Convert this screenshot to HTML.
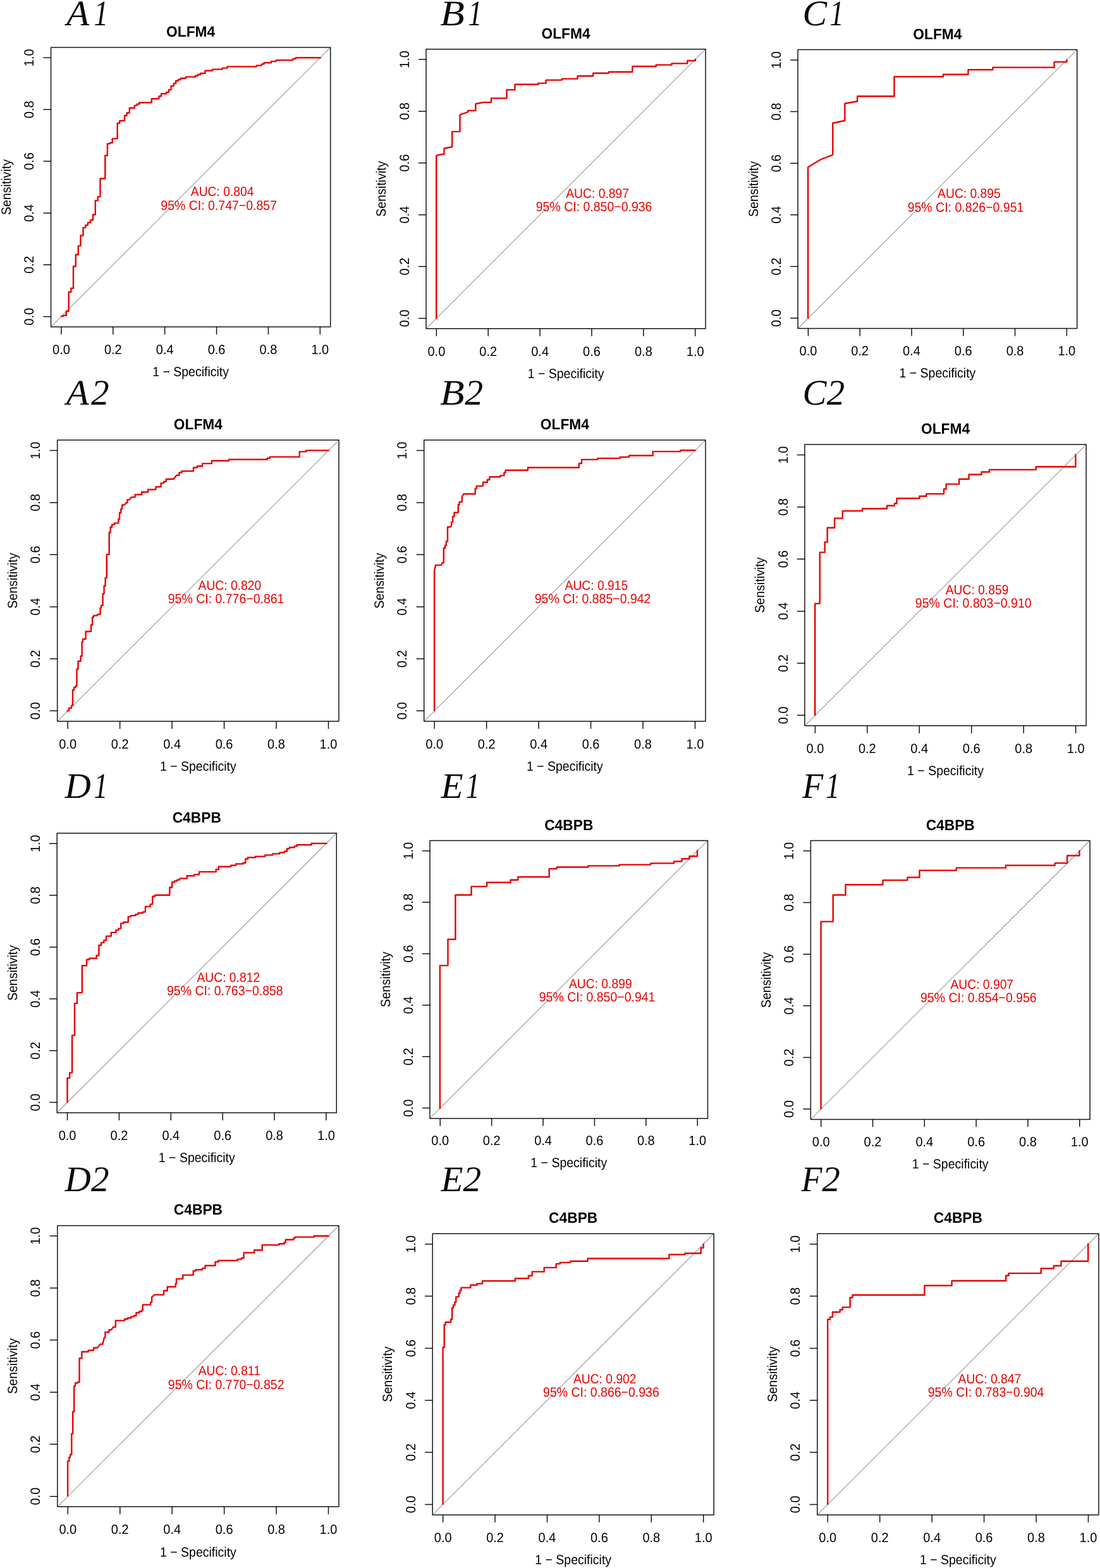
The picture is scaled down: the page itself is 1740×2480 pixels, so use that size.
<!DOCTYPE html>
<html><head><meta charset="utf-8"><title>ROC curves</title>
<style>
html,body{margin:0;padding:0;background:#fff;}
body{width:1740px;height:2480px;overflow:hidden;}
svg{display:block;}
#wrap{width:1740px;height:2480px;}
text{font-family:"Liberation Sans",Arial,sans-serif;font-size:21.2px;fill:#000;text-rendering:geometricPrecision;}
.tl{text-anchor:middle;}
.ttl{text-anchor:middle;font-weight:bold;font-size:23.5px;}
.au{fill:#e80000;}
.lab{font-family:"Liberation Serif","Times New Roman",serif;font-style:italic;font-size:57.0px;fill:#0a0a0a;}
.lab tspan{font-family:"Liberation Serif","Times New Roman",serif;}
.bx{fill:none;stroke:#141414;stroke-width:1.5;stroke-linejoin:round;}
.tk{fill:none;stroke:#141414;stroke-width:1.5;stroke-linecap:round;}
.dg{stroke:#999;stroke-width:1.1;}
.cv{fill:none;stroke:#e80000;stroke-width:2.4;stroke-linejoin:round;stroke-linecap:round;}
</style></head>
<body><div id="wrap"><svg width="1740" height="2480" viewBox="0 0 1740 2480">
<rect width="1740" height="2480" fill="#fff"/>
<g>
<text class="lab" transform="translate(105.22 39.7) scale(1.033 1)">A</text>
<text class="lab" transform="translate(148.48 39.7) scale(0.796 1)">1</text>
<text class="ttl tl" transform="translate(301.62 58.1) scale(0.969 1)">OLFM4</text>
<line class="dg" x1="80.55" y1="517.1" x2="522.7" y2="75"/>
<path class="cv" d="M97 500.3 H100 V499 H104.7 V492.2 H108.7 V461.9 H112.3 V455.9 H116 V421.2 H119.8 V402.8 H123.8 V388.9 H127.5 V372.5 H131.5 V360.1 H135.2 V356.1 H138.9 V352.1 H143.1 V348 H147.1 V339.5 H150.8 V317.2 H154.7 V311.1 H158.5 V282.5 H166.3 V246 H169.9 V227.4 H173.8 V225.9 H177.7 V219.4 H185.7 V194.8 H189.3 V191 H197.1 V182.7 H200.5 V178.5 H204.8 V170.8 H212.9 V166.9 H216.5 V164.6 H220.4 V162.2 H239.7 V156.3 H251.4 V152.2 H255 V148.3 H263 V146 H266.9 V142.1 H270.5 V135.9 H274.7 V132 H278.2 V127.8 H282.1 V125.8 H286 V123.8 H293.8 V121.6 H308.8 V120 H312.7 V118 H316.9 V116 H324.5 V111.7 H336 V109.6 H351.7 V107.6 H359.5 V105.4 H405.7 V103.6 H413.7 V101.4 H417.5 V99.2 H429 V97.1 H436.7 V95.1 H463.4 V93 H467.7 V91.2 H506.8"/>
<rect class="bx" x="80.55" y="75" width="442.15" height="442.1"/>
<path class="tk" d="M96.93 517.1V528.5M80.55 500.73H69.05M178.81 517.1V528.5M80.55 418.86H69.05M260.69 517.1V528.5M80.55 336.99H69.05M342.56 517.1V528.5M80.55 255.11H69.05M424.44 517.1V528.5M80.55 173.24H69.05M506.32 517.1V528.5M80.55 91.37H69.05"/>
<text class="tl" transform="translate(96.93 559.9) scale(0.945 1)">0.0</text>
<text class="tl" transform="translate(53.35 500.73) rotate(-90) scale(0.945 1)">0.0</text>
<text class="tl" transform="translate(178.81 559.9) scale(0.945 1)">0.2</text>
<text class="tl" transform="translate(53.35 418.86) rotate(-90) scale(0.945 1)">0.2</text>
<text class="tl" transform="translate(260.69 559.9) scale(0.945 1)">0.4</text>
<text class="tl" transform="translate(53.35 336.99) rotate(-90) scale(0.945 1)">0.4</text>
<text class="tl" transform="translate(342.56 559.9) scale(0.945 1)">0.6</text>
<text class="tl" transform="translate(53.35 255.11) rotate(-90) scale(0.945 1)">0.6</text>
<text class="tl" transform="translate(424.44 559.9) scale(0.945 1)">0.8</text>
<text class="tl" transform="translate(53.35 173.24) rotate(-90) scale(0.945 1)">0.8</text>
<text class="tl" transform="translate(506.32 559.9) scale(0.945 1)">1.0</text>
<text class="tl" transform="translate(53.35 91.37) rotate(-90) scale(0.945 1)">1.0</text>
<text class="tl" transform="translate(301.62 595) scale(0.92 1)">1 − Specificity</text>
<text class="tl" transform="translate(16.95 296.05) rotate(-90) scale(0.922 1)">Sensitivity</text>
<text class="au" transform="translate(301.82 310.3) scale(0.91 1)">AUC: 0.804</text>
<text class="au" transform="translate(254.32 331.6) scale(0.92 1)">95% CI: 0.747−0.857</text>
</g>
<g>
<text class="lab" transform="translate(696.31 39.8) scale(1.108 1)">B</text>
<text class="lab" transform="translate(740.42 39.8) scale(0.777 1)">1</text>
<text class="ttl tl" transform="translate(895.05 60.8) scale(0.969 1)">OLFM4</text>
<line class="dg" x1="674" y1="519.8" x2="1116.1" y2="77.7"/>
<path class="cv" d="M690.2 503.2 V245.9 L702.5 243.5 V234.7 L715.2 232.3 V208.1 H727.5 V181.7 L740.1 177.2 V174.9 H752.4 V164.3 L764.7 161.9 H777 V155.4 H801.5 V142.1 H814.5 V133.5 H851.4 V131.6 H863.7 V126.6 H888.9 V124.6 H913.6 V120.3 H938.3 V115.7 H962.8 V113.8 H1000.4 V105 H1037.8 V102.6 H1062.5 V100.4 H1087.3 V96 H1099.9 V93.8"/>
<rect class="bx" x="674" y="77.7" width="442.1" height="442.1"/>
<path class="tk" d="M690.37 519.8V531.2M674 503.43H662.5M772.24 519.8V531.2M674 421.56H662.5M854.11 519.8V531.2M674 339.69H662.5M935.99 519.8V531.2M674 257.81H662.5M1017.86 519.8V531.2M674 175.94H662.5M1099.73 519.8V531.2M674 94.07H662.5"/>
<text class="tl" transform="translate(690.37 562.6) scale(0.945 1)">0.0</text>
<text class="tl" transform="translate(646.8 503.43) rotate(-90) scale(0.945 1)">0.0</text>
<text class="tl" transform="translate(772.24 562.6) scale(0.945 1)">0.2</text>
<text class="tl" transform="translate(646.8 421.56) rotate(-90) scale(0.945 1)">0.2</text>
<text class="tl" transform="translate(854.11 562.6) scale(0.945 1)">0.4</text>
<text class="tl" transform="translate(646.8 339.69) rotate(-90) scale(0.945 1)">0.4</text>
<text class="tl" transform="translate(935.99 562.6) scale(0.945 1)">0.6</text>
<text class="tl" transform="translate(646.8 257.81) rotate(-90) scale(0.945 1)">0.6</text>
<text class="tl" transform="translate(1017.86 562.6) scale(0.945 1)">0.8</text>
<text class="tl" transform="translate(646.8 175.94) rotate(-90) scale(0.945 1)">0.8</text>
<text class="tl" transform="translate(1099.73 562.6) scale(0.945 1)">1.0</text>
<text class="tl" transform="translate(646.8 94.07) rotate(-90) scale(0.945 1)">1.0</text>
<text class="tl" transform="translate(895.05 597.69) scale(0.92 1)">1 − Specificity</text>
<text class="tl" transform="translate(610.41 298.75) rotate(-90) scale(0.922 1)">Sensitivity</text>
<text class="au" transform="translate(895.25 313) scale(0.91 1)">AUC: 0.897</text>
<text class="au" transform="translate(847.76 334.3) scale(0.92 1)">95% CI: 0.850−0.936</text>
</g>
<g>
<text class="lab" transform="translate(1269.58 39.8) scale(1.015 1)">C</text>
<text class="lab" transform="translate(1312.42 39.8) scale(0.777 1)">1</text>
<text class="ttl tl" transform="translate(1482.9 61.72) scale(0.969 1)">OLFM4</text>
<line class="dg" x1="1262.1" y1="519.5" x2="1703.7" y2="78.6"/>
<path class="cv" d="M1278.1 502.9 V264.6 L1298.6 252 L1317.3 244.8 V194.7 L1336.4 190.8 V163.8 L1356.2 160.2 V152.3 H1414.5 V121.3 H1491.9 V117.7 H1531.5 V110.2 H1570.4 V106.6 H1667.6 V97.9 H1687.4 V94.7"/>
<rect class="bx" x="1262.1" y="78.6" width="441.6" height="440.9"/>
<path class="tk" d="M1278.46 519.5V530.9M1262.1 503.17H1250.6M1360.23 519.5V530.9M1262.1 421.52H1250.6M1442.01 519.5V530.9M1262.1 339.87H1250.6M1523.79 519.5V530.9M1262.1 258.23H1250.6M1605.57 519.5V530.9M1262.1 176.58H1250.6M1687.34 519.5V530.9M1262.1 94.93H1250.6"/>
<text class="tl" transform="translate(1278.46 562.25) scale(0.945 1)">0.0</text>
<text class="tl" transform="translate(1234.93 503.17) rotate(-90) scale(0.945 1)">0.0</text>
<text class="tl" transform="translate(1360.23 562.25) scale(0.945 1)">0.2</text>
<text class="tl" transform="translate(1234.93 421.52) rotate(-90) scale(0.945 1)">0.2</text>
<text class="tl" transform="translate(1442.01 562.25) scale(0.945 1)">0.4</text>
<text class="tl" transform="translate(1234.93 339.87) rotate(-90) scale(0.945 1)">0.4</text>
<text class="tl" transform="translate(1523.79 562.25) scale(0.945 1)">0.6</text>
<text class="tl" transform="translate(1234.93 258.23) rotate(-90) scale(0.945 1)">0.6</text>
<text class="tl" transform="translate(1605.57 562.25) scale(0.945 1)">0.8</text>
<text class="tl" transform="translate(1234.93 176.58) rotate(-90) scale(0.945 1)">0.8</text>
<text class="tl" transform="translate(1687.34 562.25) scale(0.945 1)">1.0</text>
<text class="tl" transform="translate(1234.93 94.93) rotate(-90) scale(0.945 1)">1.0</text>
<text class="tl" transform="translate(1482.9 597.3) scale(0.92 1)">1 − Specificity</text>
<text class="tl" transform="translate(1198.58 299.05) rotate(-90) scale(0.922 1)">Sensitivity</text>
<text class="au" transform="translate(1483.1 313.28) scale(0.91 1)">AUC: 0.895</text>
<text class="au" transform="translate(1435.66 334.56) scale(0.92 1)">95% CI: 0.826−0.951</text>
</g>
<g>
<text class="lab" transform="translate(104.81 640) scale(1.031 1)">A</text>
<text class="lab" transform="translate(144.07 640) scale(1.007 1)">2</text>
<text class="ttl tl" transform="translate(313.35 679.08) scale(0.969 1)">OLFM4</text>
<line class="dg" x1="90.7" y1="1140.8" x2="536" y2="696.1"/>
<path class="cv" d="M106.5 1124.4 H109 V1119.9 H113 V1115.9 H115 V1091.4 H117 V1087.4 H119.5 V1084.9 H121.5 V1058.3 H123.5 V1045.8 H127.6 V1037.8 H129.6 V1015.2 H131.1 V1010.7 H135.6 V998.7 H144.1 V988.2 H146.1 V976.2 H148.1 V973.6 H154.1 V971.6 H158.6 V961.6 H160.1 V957.6 H162.6 V939.1 H164.6 V926.5 H166.6 V913.9 H168.8 V877 H172.7 V842.3 H174.6 V833.8 H177.1 V829.6 H180.9 V827.4 H187.3 V821 H189.1 V811 H191.3 V805 H193.1 V798.8 H196.5 L199.5 795.3 H201.4 V790.4 H204.4 L208 786.4 H213.6 V782.2 H224.1 V778.2 H234.2 V774.2 H246.4 V770 H254.6 V764.1 H259.1 V761.8 H262.8 V757.8 H274.7 L279.2 751.8 H283.4 V747.4 H287.4 V745.1 H306 V739.5 H312 V737.2 H320.1 V733.1 H335 V728.8 H361.9 V726.8 H422.7 V724.8 H426.7 V722.6 H473.8 V714.4 H484.3 V712.4 H520"/>
<rect class="bx" x="90.7" y="696.1" width="445.3" height="444.7"/>
<path class="tk" d="M107.19 1140.8V1152.2M90.7 1124.33H79.2M189.66 1140.8V1152.2M90.7 1041.98H79.2M272.12 1140.8V1152.2M90.7 959.63H79.2M354.58 1140.8V1152.2M90.7 877.27H79.2M437.04 1140.8V1152.2M90.7 794.92H79.2M519.51 1140.8V1152.2M90.7 712.57H79.2"/>
<text class="tl" transform="translate(107.19 1183.9) scale(0.945 1)">0.0</text>
<text class="tl" transform="translate(63.31 1124.33) rotate(-90) scale(0.945 1)">0.0</text>
<text class="tl" transform="translate(189.66 1183.9) scale(0.945 1)">0.2</text>
<text class="tl" transform="translate(63.31 1041.98) rotate(-90) scale(0.945 1)">0.2</text>
<text class="tl" transform="translate(272.12 1183.9) scale(0.945 1)">0.4</text>
<text class="tl" transform="translate(63.31 959.63) rotate(-90) scale(0.945 1)">0.4</text>
<text class="tl" transform="translate(354.58 1183.9) scale(0.945 1)">0.6</text>
<text class="tl" transform="translate(63.31 877.27) rotate(-90) scale(0.945 1)">0.6</text>
<text class="tl" transform="translate(437.04 1183.9) scale(0.945 1)">0.8</text>
<text class="tl" transform="translate(63.31 794.92) rotate(-90) scale(0.945 1)">0.8</text>
<text class="tl" transform="translate(519.51 1183.9) scale(0.945 1)">1.0</text>
<text class="tl" transform="translate(63.31 712.57) rotate(-90) scale(0.945 1)">1.0</text>
<text class="tl" transform="translate(313.35 1219.25) scale(0.92 1)">1 − Specificity</text>
<text class="tl" transform="translate(26.65 918.45) rotate(-90) scale(0.922 1)">Sensitivity</text>
<text class="au" transform="translate(313.55 932.8) scale(0.91 1)">AUC: 0.820</text>
<text class="au" transform="translate(265.71 954.25) scale(0.92 1)">95% CI: 0.776−0.861</text>
</g>
<g>
<text class="lab" transform="translate(696.01 640) scale(1.111 1)">B</text>
<text class="lab" transform="translate(735.37 640) scale(1.018 1)">2</text>
<text class="ttl tl" transform="translate(893.35 679.08) scale(0.969 1)">OLFM4</text>
<line class="dg" x1="670.7" y1="1140.8" x2="1116" y2="696.1"/>
<path class="cv" d="M687.1 1124 V902.7 L688.9 893.9 H697.8 L699.8 890 H701.8 V867 H703.9 V862.7 H705.9 V856.3 H708 V833.5 H712.1 L714.1 831.7 V825.6 H716.2 V816.7 H718.5 V810.6 H724.8 V798.3 H726.7 V793.9 H730.8 V786 L733.3 781.2 H751.7 V773 H753.7 V768.6 H764 V762.8 H770.8 V758.7 H774.5 V754.2 H791.3 V752.1 H797.4 V747.8 H799.5 V743.7 H835 V739.5 H915.9 V733 H920 V726.9 H945.3 V724.9 H980.8 V722.9 H995.1 V720.5 H1032.7 V714.1 H1076.4 V712.3 H1099.6"/>
<rect class="bx" x="670.7" y="696.1" width="445.3" height="444.7"/>
<path class="tk" d="M687.19 1140.8V1152.2M670.7 1124.33H659.2M769.66 1140.8V1152.2M670.7 1041.98H659.2M852.12 1140.8V1152.2M670.7 959.63H659.2M934.58 1140.8V1152.2M670.7 877.27H659.2M1017.04 1140.8V1152.2M670.7 794.92H659.2M1099.51 1140.8V1152.2M670.7 712.57H659.2"/>
<text class="tl" transform="translate(687.19 1183.9) scale(0.945 1)">0.0</text>
<text class="tl" transform="translate(643.31 1124.33) rotate(-90) scale(0.945 1)">0.0</text>
<text class="tl" transform="translate(769.66 1183.9) scale(0.945 1)">0.2</text>
<text class="tl" transform="translate(643.31 1041.98) rotate(-90) scale(0.945 1)">0.2</text>
<text class="tl" transform="translate(852.12 1183.9) scale(0.945 1)">0.4</text>
<text class="tl" transform="translate(643.31 959.63) rotate(-90) scale(0.945 1)">0.4</text>
<text class="tl" transform="translate(934.58 1183.9) scale(0.945 1)">0.6</text>
<text class="tl" transform="translate(643.31 877.27) rotate(-90) scale(0.945 1)">0.6</text>
<text class="tl" transform="translate(1017.04 1183.9) scale(0.945 1)">0.8</text>
<text class="tl" transform="translate(643.31 794.92) rotate(-90) scale(0.945 1)">0.8</text>
<text class="tl" transform="translate(1099.51 1183.9) scale(0.945 1)">1.0</text>
<text class="tl" transform="translate(643.31 712.57) rotate(-90) scale(0.945 1)">1.0</text>
<text class="tl" transform="translate(893.35 1219.25) scale(0.92 1)">1 − Specificity</text>
<text class="tl" transform="translate(606.65 918.45) rotate(-90) scale(0.922 1)">Sensitivity</text>
<text class="au" transform="translate(893.55 932.8) scale(0.91 1)">AUC: 0.915</text>
<text class="au" transform="translate(845.71 954.25) scale(0.92 1)">95% CI: 0.885−0.942</text>
</g>
<g>
<text class="lab" transform="translate(1269.43 640) scale(0.998 1)">C</text>
<text class="lab" transform="translate(1307.87 640) scale(0.999 1)">2</text>
<text class="ttl tl" transform="translate(1495.5 686.08) scale(0.969 1)">OLFM4</text>
<line class="dg" x1="1272.9" y1="1147.8" x2="1718.1" y2="703.1"/>
<path class="cv" d="M1289.2 1131 V954.6 H1296.8 V873.6 H1304.7 V857.4 H1308.7 V834.7 H1320.2 V819.6 H1332.8 V808.1 H1364.1 V804.5 H1403 V799.8 H1414.9 V796.2 H1418.5 V788.3 H1454.5 V784.7 H1465.3 V781.1 H1493 V773.5 H1496.6 V765.6 H1517.1 V757.7 H1532.6 V750.5 H1552.4 V746.5 H1565 V742.9 H1638.8 V738.2 H1701.4 V719.2"/>
<rect class="bx" x="1272.9" y="703.1" width="445.2" height="444.7"/>
<path class="tk" d="M1289.39 1147.8V1159.2M1272.9 1131.33H1261.4M1371.83 1147.8V1159.2M1272.9 1048.98H1261.4M1454.28 1147.8V1159.2M1272.9 966.63H1261.4M1536.72 1147.8V1159.2M1272.9 884.27H1261.4M1619.17 1147.8V1159.2M1272.9 801.92H1261.4M1701.61 1147.8V1159.2M1272.9 719.57H1261.4"/>
<text class="tl" transform="translate(1289.39 1190.9) scale(0.945 1)">0.0</text>
<text class="tl" transform="translate(1245.51 1131.33) rotate(-90) scale(0.945 1)">0.0</text>
<text class="tl" transform="translate(1371.83 1190.9) scale(0.945 1)">0.2</text>
<text class="tl" transform="translate(1245.51 1048.98) rotate(-90) scale(0.945 1)">0.2</text>
<text class="tl" transform="translate(1454.28 1190.9) scale(0.945 1)">0.4</text>
<text class="tl" transform="translate(1245.51 966.63) rotate(-90) scale(0.945 1)">0.4</text>
<text class="tl" transform="translate(1536.72 1190.9) scale(0.945 1)">0.6</text>
<text class="tl" transform="translate(1245.51 884.27) rotate(-90) scale(0.945 1)">0.6</text>
<text class="tl" transform="translate(1619.17 1190.9) scale(0.945 1)">0.8</text>
<text class="tl" transform="translate(1245.51 801.92) rotate(-90) scale(0.945 1)">0.8</text>
<text class="tl" transform="translate(1701.61 1190.9) scale(0.945 1)">1.0</text>
<text class="tl" transform="translate(1245.51 719.57) rotate(-90) scale(0.945 1)">1.0</text>
<text class="tl" transform="translate(1495.5 1226.24) scale(0.92 1)">1 − Specificity</text>
<text class="tl" transform="translate(1208.86 925.45) rotate(-90) scale(0.922 1)">Sensitivity</text>
<text class="au" transform="translate(1495.7 939.8) scale(0.91 1)">AUC: 0.859</text>
<text class="au" transform="translate(1447.87 961.25) scale(0.92 1)">95% CI: 0.803−0.910</text>
</g>
<g>
<text class="lab" transform="translate(102.54 1261.9) scale(1.004 1)">D</text>
<text class="lab" transform="translate(148.54 1261.9) scale(0.767 1)">1</text>
<text class="ttl tl" transform="translate(311.25 1300.9) scale(0.969 1)">C4BPB</text>
<line class="dg" x1="90.2" y1="1760" x2="532.3" y2="1317.8"/>
<path class="cv" d="M106.5 1743.2 V1705 H110.2 V1696.6 H114.1 V1637.6 H118 V1586.9 H122 V1570.1 H129.8 V1527.3 H137.1 V1517.8 H141.3 V1515.8 H152.6 V1511.3 H156.4 V1495 H160.2 V1490.9 H164.3 V1487.2 H168 V1480.6 H175.8 V1474.9 H183.4 V1471.1 H187.5 V1468.6 H191.2 V1460.4 H195.3 V1458.5 H202.8 V1449.9 H206.9 V1448.1 H214.4 V1446.1 H218.5 V1444 H226 V1442.4 H229.9 V1433.9 H237.6 V1430.1 H241.3 V1417.8 H245.1 V1415.7 H268.4 V1403.5 H272.2 V1395.3 H275.9 V1393.5 H280 V1391.6 H284.1 V1389.4 H295.7 V1385.3 H307.3 V1383.2 H315.1 V1378.9 H341.7 V1375 H345.8 V1370.8 H365.1 V1368.8 H373 V1366.4 H384.5 V1364.7 H388.3 V1358.5 H392 V1356.3 H403.7 V1354.6 H419.3 V1352.4 H431.1 V1350.4 H442.2 V1348.5 H450.1 V1346.5 H454 V1342.3 H457.9 V1340.3 H465.7 V1338.4 H469.6 V1336.2 H492.5 V1334 H516.5"/>
<rect class="bx" x="90.2" y="1317.8" width="442.1" height="442.2"/>
<path class="tk" d="M106.57 1760V1771.4M90.2 1743.62H78.7M188.44 1760V1771.4M90.2 1661.73H78.7M270.31 1760V1771.4M90.2 1579.84H78.7M352.19 1760V1771.4M90.2 1497.96H78.7M434.06 1760V1771.4M90.2 1416.07H78.7M515.93 1760V1771.4M90.2 1334.18H78.7"/>
<text class="tl" transform="translate(106.57 1802.8) scale(0.945 1)">0.0</text>
<text class="tl" transform="translate(63 1743.62) rotate(-90) scale(0.945 1)">0.0</text>
<text class="tl" transform="translate(188.44 1802.8) scale(0.945 1)">0.2</text>
<text class="tl" transform="translate(63 1661.73) rotate(-90) scale(0.945 1)">0.2</text>
<text class="tl" transform="translate(270.31 1802.8) scale(0.945 1)">0.4</text>
<text class="tl" transform="translate(63 1579.84) rotate(-90) scale(0.945 1)">0.4</text>
<text class="tl" transform="translate(352.19 1802.8) scale(0.945 1)">0.6</text>
<text class="tl" transform="translate(63 1497.96) rotate(-90) scale(0.945 1)">0.6</text>
<text class="tl" transform="translate(434.06 1802.8) scale(0.945 1)">0.8</text>
<text class="tl" transform="translate(63 1416.07) rotate(-90) scale(0.945 1)">0.8</text>
<text class="tl" transform="translate(515.93 1802.8) scale(0.945 1)">1.0</text>
<text class="tl" transform="translate(63 1334.18) rotate(-90) scale(0.945 1)">1.0</text>
<text class="tl" transform="translate(311.25 1837.89) scale(0.92 1)">1 − Specificity</text>
<text class="tl" transform="translate(26.61 1538.9) rotate(-90) scale(0.922 1)">Sensitivity</text>
<text class="au" transform="translate(311.45 1553.15) scale(0.91 1)">AUC: 0.812</text>
<text class="au" transform="translate(263.96 1574.45) scale(0.92 1)">95% CI: 0.763−0.858</text>
</g>
<g>
<text class="lab" transform="translate(697.57 1261.9) scale(1.007 1)">E</text>
<text class="lab" transform="translate(736.72 1261.9) scale(0.777 1)">1</text>
<text class="ttl tl" transform="translate(899.75 1312.6) scale(0.969 1)">C4BPB</text>
<line class="dg" x1="680" y1="1768.9" x2="1119.5" y2="1329.4"/>
<path class="cv" d="M695.9 1752.8 V1527.1 H708.5 V1485.7 H720.4 V1415.5 H745.6 V1402.1 H770.1 V1395.7 H807.5 V1391.7 H819.4 V1387 H868.7 V1374.1 H880.6 V1371.5 H930.3 V1369.4 H979.6 V1367.6 H1029.2 V1365.4 H1066 V1362.5 H1078.6 V1358.2 H1090.4 V1354.3 H1103 V1345.3"/>
<rect class="bx" x="680" y="1329.4" width="439.5" height="439.5"/>
<path class="tk" d="M696.28 1768.9V1780.3M680 1752.62H668.5M777.67 1768.9V1780.3M680 1671.23H668.5M859.06 1768.9V1780.3M680 1589.84H668.5M940.44 1768.9V1780.3M680 1508.46H668.5M1021.83 1768.9V1780.3M680 1427.07H668.5M1103.22 1768.9V1780.3M680 1345.68H668.5"/>
<text class="tl" transform="translate(696.28 1811.44) scale(0.945 1)">0.0</text>
<text class="tl" transform="translate(652.96 1752.62) rotate(-90) scale(0.945 1)">0.0</text>
<text class="tl" transform="translate(777.67 1811.44) scale(0.945 1)">0.2</text>
<text class="tl" transform="translate(652.96 1671.23) rotate(-90) scale(0.945 1)">0.2</text>
<text class="tl" transform="translate(859.06 1811.44) scale(0.945 1)">0.4</text>
<text class="tl" transform="translate(652.96 1589.84) rotate(-90) scale(0.945 1)">0.4</text>
<text class="tl" transform="translate(940.44 1811.44) scale(0.945 1)">0.6</text>
<text class="tl" transform="translate(652.96 1508.46) rotate(-90) scale(0.945 1)">0.6</text>
<text class="tl" transform="translate(1021.83 1811.44) scale(0.945 1)">0.8</text>
<text class="tl" transform="translate(652.96 1427.07) rotate(-90) scale(0.945 1)">0.8</text>
<text class="tl" transform="translate(1103.22 1811.44) scale(0.945 1)">1.0</text>
<text class="tl" transform="translate(652.96 1345.68) rotate(-90) scale(0.945 1)">1.0</text>
<text class="tl" transform="translate(899.75 1846.33) scale(0.92 1)">1 − Specificity</text>
<text class="tl" transform="translate(616.78 1549.15) rotate(-90) scale(0.922 1)">Sensitivity</text>
<text class="au" transform="translate(899.95 1563.31) scale(0.91 1)">AUC: 0.899</text>
<text class="au" transform="translate(852.73 1584.49) scale(0.92 1)">95% CI: 0.850−0.941</text>
</g>
<g>
<text class="lab" transform="translate(1269.19 1261.9) scale(0.947 1)">F</text>
<text class="lab" transform="translate(1305.99 1261.9) scale(0.791 1)">1</text>
<text class="ttl tl" transform="translate(1503.22 1312.62) scale(0.969 1)">C4BPB</text>
<line class="dg" x1="1282.35" y1="1770.45" x2="1724.1" y2="1329.5"/>
<path class="cv" d="M1298.6 1753.8 V1457.6 H1317.7 V1415.5 H1337.5 V1399.3 H1396.5 V1392.1 H1435.4 V1387.7 H1454.5 V1376.6 H1512.8 V1372.6 H1590.9 V1368.7 H1668.6 V1365.1 H1688.1 V1353.2 H1707.5 V1345.6"/>
<rect class="bx" x="1282.35" y="1329.5" width="441.75" height="440.95"/>
<path class="tk" d="M1298.71 1770.45V1781.85M1282.35 1754.12H1270.85M1380.52 1770.45V1781.85M1282.35 1672.46H1270.85M1462.32 1770.45V1781.85M1282.35 1590.8H1270.85M1544.13 1770.45V1781.85M1282.35 1509.15H1270.85M1625.93 1770.45V1781.85M1282.35 1427.49H1270.85M1707.74 1770.45V1781.85M1282.35 1345.83H1270.85"/>
<text class="tl" transform="translate(1298.71 1813.21) scale(0.945 1)">0.0</text>
<text class="tl" transform="translate(1255.17 1754.12) rotate(-90) scale(0.945 1)">0.0</text>
<text class="tl" transform="translate(1380.52 1813.21) scale(0.945 1)">0.2</text>
<text class="tl" transform="translate(1255.17 1672.46) rotate(-90) scale(0.945 1)">0.2</text>
<text class="tl" transform="translate(1462.32 1813.21) scale(0.945 1)">0.4</text>
<text class="tl" transform="translate(1255.17 1590.8) rotate(-90) scale(0.945 1)">0.4</text>
<text class="tl" transform="translate(1544.13 1813.21) scale(0.945 1)">0.6</text>
<text class="tl" transform="translate(1255.17 1509.15) rotate(-90) scale(0.945 1)">0.6</text>
<text class="tl" transform="translate(1625.93 1813.21) scale(0.945 1)">0.8</text>
<text class="tl" transform="translate(1255.17 1427.49) rotate(-90) scale(0.945 1)">0.8</text>
<text class="tl" transform="translate(1707.74 1813.21) scale(0.945 1)">1.0</text>
<text class="tl" transform="translate(1255.17 1345.83) rotate(-90) scale(0.945 1)">1.0</text>
<text class="tl" transform="translate(1503.22 1848.28) scale(0.92 1)">1 − Specificity</text>
<text class="tl" transform="translate(1218.81 1549.97) rotate(-90) scale(0.922 1)">Sensitivity</text>
<text class="au" transform="translate(1503.42 1564.21) scale(0.91 1)">AUC: 0.907</text>
<text class="au" transform="translate(1455.97 1585.49) scale(0.92 1)">95% CI: 0.854−0.956</text>
</g>
<g>
<text class="lab" transform="translate(102.54 1884) scale(1.004 1)">D</text>
<text class="lab" transform="translate(144.07 1884) scale(1.007 1)">2</text>
<text class="ttl tl" transform="translate(313.43 1921.39) scale(0.969 1)">C4BPB</text>
<line class="dg" x1="90.86" y1="2383.1" x2="536" y2="1938.4"/>
<path class="cv" d="M107.1 2366.1 V2311.1 H109.3 V2305.1 H111.1 V2300.8 H113.3 V2267.6 H115.2 V2232.7 H117.2 V2191.9 H119.1 V2187.5 H122.9 V2185.9 H125.6 V2148.3 H129.4 V2138 H139.7 V2135.8 H147.9 V2131.8 H153.9 L158.8 2126 H162.4 L165 2115.2 H166.4 V2107 H172.5 V2103.3 H175.9 L179.4 2098.8 H182.8 V2088.6 H197.1 V2086.2 H201.9 V2084.5 H207.4 V2082.4 H212.1 V2080.8 H215.5 V2076.3 H220.3 V2074.2 H224.4 V2072.2 H225.8 V2063.6 H238.1 V2059.9 H240.1 V2051.7 L244.2 2047.9 H259 V2041.5 H264.7 V2035.3 H277.7 V2030.5 H279 V2022.6 H289.3 V2016.6 H305.7 V2010 H309.8 V2008.3 H320 V2005.9 H324.5 V2001.8 H340.5 V1995.7 H345.3 V1993.8 H375.6 V1991.6 H382 V1989.8 H385.6 V1981.4 H402.2 V1977.2 H414.7 V1969.1 H441.3 V1967.2 H449.7 V1965 H451.8 V1960.8 H463.9 V1958.9 H466.1 V1956.6 H496.7 V1954.7 H519.9"/>
<rect class="bx" x="90.86" y="1938.4" width="445.14" height="444.7"/>
<path class="tk" d="M107.35 2383.1V2394.5M90.86 2366.63H79.36M189.78 2383.1V2394.5M90.86 2284.28H79.36M272.21 2383.1V2394.5M90.86 2201.93H79.36M354.65 2383.1V2394.5M90.86 2119.57H79.36M437.08 2383.1V2394.5M90.86 2037.22H79.36M519.51 2383.1V2394.5M90.86 1954.87H79.36"/>
<text class="tl" transform="translate(107.35 2426.19) scale(0.945 1)">0.0</text>
<text class="tl" transform="translate(63.48 2366.63) rotate(-90) scale(0.945 1)">0.0</text>
<text class="tl" transform="translate(189.78 2426.19) scale(0.945 1)">0.2</text>
<text class="tl" transform="translate(63.48 2284.28) rotate(-90) scale(0.945 1)">0.2</text>
<text class="tl" transform="translate(272.21 2426.19) scale(0.945 1)">0.4</text>
<text class="tl" transform="translate(63.48 2201.93) rotate(-90) scale(0.945 1)">0.4</text>
<text class="tl" transform="translate(354.65 2426.19) scale(0.945 1)">0.6</text>
<text class="tl" transform="translate(63.48 2119.57) rotate(-90) scale(0.945 1)">0.6</text>
<text class="tl" transform="translate(437.08 2426.19) scale(0.945 1)">0.8</text>
<text class="tl" transform="translate(63.48 2037.22) rotate(-90) scale(0.945 1)">0.8</text>
<text class="tl" transform="translate(519.51 2426.19) scale(0.945 1)">1.0</text>
<text class="tl" transform="translate(63.48 1954.87) rotate(-90) scale(0.945 1)">1.0</text>
<text class="tl" transform="translate(313.43 2461.53) scale(0.92 1)">1 − Specificity</text>
<text class="tl" transform="translate(26.83 2160.75) rotate(-90) scale(0.922 1)">Sensitivity</text>
<text class="au" transform="translate(313.63 2175.1) scale(0.91 1)">AUC: 0.811</text>
<text class="au" transform="translate(265.81 2196.54) scale(0.92 1)">95% CI: 0.770−0.852</text>
</g>
<g>
<text class="lab" transform="translate(697.57 1884) scale(1.007 1)">E</text>
<text class="lab" transform="translate(732.47 1884) scale(1.007 1)">2</text>
<text class="ttl tl" transform="translate(906.7 1934.25) scale(0.969 1)">C4BPB</text>
<line class="dg" x1="684.2" y1="2395.9" x2="1129.2" y2="1951.26"/>
<path class="cv" d="M700.6 2379.2 V2130.9 H702.7 V2095.5 H704.6 V2091.2 H713 V2086.8 H715.1 V2068.2 H717.1 V2064.2 H719.4 V2059.5 H721.3 V2051.1 H725.8 V2045.2 H727.6 V2040.9 H729.5 V2036.6 H744.4 V2032.5 H754.6 V2030.3 H763.2 V2026 H814.8 V2022 H835.9 V2017.7 H841.7 V2011.4 H860.7 V2004.9 H879.7 V1998.9 H885.8 V1996.9 H902.3 V1994.8 H929.6 V1990.5 H1058.5 V1984.3 H1083.4 V1982.3 H1108.7 V1973.6 H1112.7 V1967.7"/>
<rect class="bx" x="684.2" y="1951.26" width="445" height="444.64"/>
<path class="tk" d="M700.68 2395.9V2407.3M684.2 2379.43H672.7M783.09 2395.9V2407.3M684.2 2297.09H672.7M865.5 2395.9V2407.3M684.2 2214.75H672.7M947.9 2395.9V2407.3M684.2 2132.41H672.7M1030.31 2395.9V2407.3M684.2 2050.07H672.7M1112.72 2395.9V2407.3M684.2 1967.73H672.7"/>
<text class="tl" transform="translate(700.68 2438.98) scale(0.945 1)">0.0</text>
<text class="tl" transform="translate(656.82 2379.43) rotate(-90) scale(0.945 1)">0.0</text>
<text class="tl" transform="translate(783.09 2438.98) scale(0.945 1)">0.2</text>
<text class="tl" transform="translate(656.82 2297.09) rotate(-90) scale(0.945 1)">0.2</text>
<text class="tl" transform="translate(865.5 2438.98) scale(0.945 1)">0.4</text>
<text class="tl" transform="translate(656.82 2214.75) rotate(-90) scale(0.945 1)">0.4</text>
<text class="tl" transform="translate(947.9 2438.98) scale(0.945 1)">0.6</text>
<text class="tl" transform="translate(656.82 2132.41) rotate(-90) scale(0.945 1)">0.6</text>
<text class="tl" transform="translate(1030.31 2438.98) scale(0.945 1)">0.8</text>
<text class="tl" transform="translate(656.82 2050.07) rotate(-90) scale(0.945 1)">0.8</text>
<text class="tl" transform="translate(1112.72 2438.98) scale(0.945 1)">1.0</text>
<text class="tl" transform="translate(656.82 1967.73) rotate(-90) scale(0.945 1)">1.0</text>
<text class="tl" transform="translate(906.7 2474.3) scale(0.92 1)">1 − Specificity</text>
<text class="tl" transform="translate(620.19 2173.58) rotate(-90) scale(0.922 1)">Sensitivity</text>
<text class="au" transform="translate(906.9 2187.92) scale(0.91 1)">AUC: 0.902</text>
<text class="au" transform="translate(859.09 2209.36) scale(0.92 1)">95% CI: 0.866−0.936</text>
</g>
<g>
<text class="lab" transform="translate(1267.59 1884) scale(0.947 1)">F</text>
<text class="lab" transform="translate(1300.27 1884) scale(1.007 1)">2</text>
<text class="ttl tl" transform="translate(1515.38 1934.25) scale(0.969 1)">C4BPB</text>
<line class="dg" x1="1292.8" y1="2395.9" x2="1737.95" y2="1951.26"/>
<path class="cv" d="M1309.2 2379.2 V2086.8 H1313 V2083.1 H1316.9 V2075.3 H1328.7 V2071.5 H1332.8 V2067.6 H1344.6 V2052.3 H1348.4 V2048.3 H1462.4 V2033.3 H1505.6 V2025.7 H1591.2 V2017.5 H1595.6 V2013.9 H1646.7 V2006.3 H1666.8 V2002 H1678.4 V1994.8 H1721.2 V1967.4"/>
<rect class="bx" x="1292.8" y="1951.26" width="445.15" height="444.64"/>
<path class="tk" d="M1309.29 2395.9V2407.3M1292.8 2379.43H1281.3M1391.72 2395.9V2407.3M1292.8 2297.09H1281.3M1474.16 2395.9V2407.3M1292.8 2214.75H1281.3M1556.59 2395.9V2407.3M1292.8 2132.41H1281.3M1639.03 2395.9V2407.3M1292.8 2050.07H1281.3M1721.46 2395.9V2407.3M1292.8 1967.73H1281.3"/>
<text class="tl" transform="translate(1309.29 2438.99) scale(0.945 1)">0.0</text>
<text class="tl" transform="translate(1265.42 2379.43) rotate(-90) scale(0.945 1)">0.0</text>
<text class="tl" transform="translate(1391.72 2438.99) scale(0.945 1)">0.2</text>
<text class="tl" transform="translate(1265.42 2297.09) rotate(-90) scale(0.945 1)">0.2</text>
<text class="tl" transform="translate(1474.16 2438.99) scale(0.945 1)">0.4</text>
<text class="tl" transform="translate(1265.42 2214.75) rotate(-90) scale(0.945 1)">0.4</text>
<text class="tl" transform="translate(1556.59 2438.99) scale(0.945 1)">0.6</text>
<text class="tl" transform="translate(1265.42 2132.41) rotate(-90) scale(0.945 1)">0.6</text>
<text class="tl" transform="translate(1639.03 2438.99) scale(0.945 1)">0.8</text>
<text class="tl" transform="translate(1265.42 2050.07) rotate(-90) scale(0.945 1)">0.8</text>
<text class="tl" transform="translate(1721.46 2438.99) scale(0.945 1)">1.0</text>
<text class="tl" transform="translate(1265.42 1967.73) rotate(-90) scale(0.945 1)">1.0</text>
<text class="tl" transform="translate(1515.38 2474.33) scale(0.92 1)">1 − Specificity</text>
<text class="tl" transform="translate(1228.77 2173.58) rotate(-90) scale(0.922 1)">Sensitivity</text>
<text class="au" transform="translate(1515.58 2187.93) scale(0.91 1)">AUC: 0.847</text>
<text class="au" transform="translate(1467.75 2209.37) scale(0.92 1)">95% CI: 0.783−0.904</text>
</g>
</svg></div></body></html>
